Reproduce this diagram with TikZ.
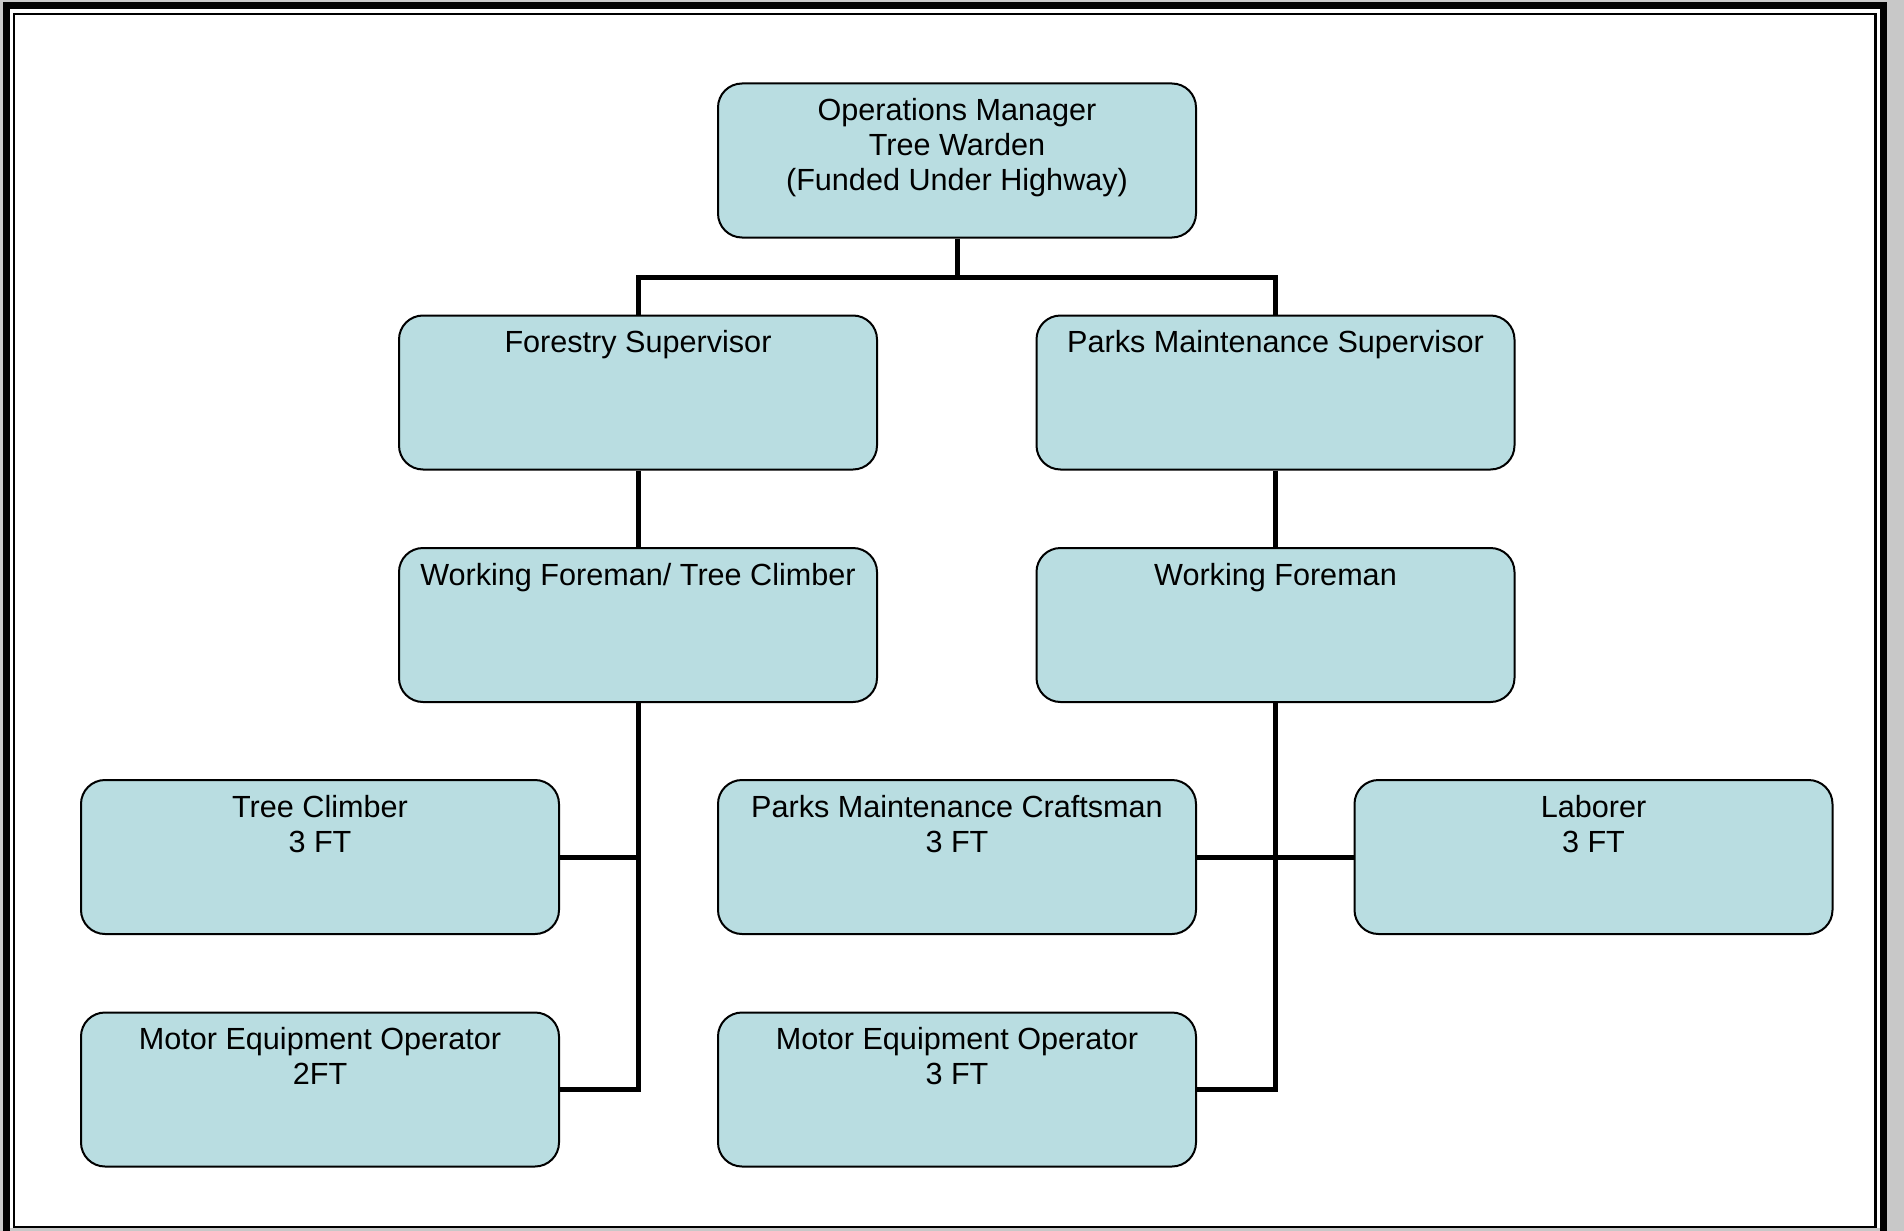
\documentclass[tikz,border=0pt]{standalone}
\usepackage{fontspec}
\setmainfont{Liberation Sans}
\pgfdeclarelayer{frame}
\pgfdeclarelayer{background}
\pgfsetlayers{frame,background,main}
\definecolor{boxcol}{RGB}{185,221,225}
\definecolor{pagegray}{RGB}{200,200,200}
\newcommand{\boxtext}[1]{\parbox[t][154pt][t]{478pt}{\centering\rule{0pt}{37pt}#1}}
\tikzset{
  orgbox/.style={draw=black, line width=2pt, fill=boxcol, rounded corners=24pt,
    inner sep=0pt, minimum width=478pt, minimum height=154pt,
    font=\fontsize{30.6}{35}\selectfont},
  conn/.style={draw=black, line width=5pt, line join=miter}
}
\begin{document}
\begin{tikzpicture}[x=1pt,y=-1pt]
\useasboundingbox (0,0) rectangle (1904,1231);
\begin{pgfonlayer}{frame}
  \fill[pagegray] (0,0) rectangle (1904,1231);
  \fill[black] (3,2) rectangle (1887,1231);
  \fill[white] (10,9) rectangle (1880,1228);
  \fill[pagegray] (10,1228) rectangle (1880,1231);
  \draw[black, line width=2.2pt] (13.8,13.8) rectangle (1875.5,1227);
\end{pgfonlayer}

\node[orgbox] (om)   at (957,160.5)  {\boxtext{Operations Manager\\Tree Warden\\(Funded Under Highway)}};
\node[orgbox] (fs)   at (638,392.5)  {\boxtext{Forestry Supervisor}};
\node[orgbox] (pms)  at (1275.5,392.5) {\boxtext{Parks Maintenance Supervisor}};
\node[orgbox] (wftc) at (638,625)    {\boxtext{Working Foreman/ Tree Climber}};
\node[orgbox] (wf)   at (1275.5,625) {\boxtext{Working Foreman}};
\node[orgbox] (tc)   at (320,857)    {\boxtext{Tree Climber\\3 FT}};
\node[orgbox] (pmc)  at (957,857)    {\boxtext{Parks Maintenance Craftsman\\3 FT}};
\node[orgbox] (lab)  at (1593.5,857) {\boxtext{Laborer\\3 FT}};
\node[orgbox] (meo2) at (320,1089.5) {\boxtext{Motor Equipment Operator\\2FT}};
\node[orgbox] (meo3) at (957,1089.5) {\boxtext{Motor Equipment Operator\\3 FT}};

\coordinate (hub) at (957,277);
\begin{pgfonlayer}{background}
  \draw[conn] (om.south) -- (hub);
  \draw[conn] (fs.north) -- (fs.north |- hub) -- (pms.north |- hub) -- (pms.north);
  \draw[conn] (fs.south) -- (wftc.north);
  \draw[conn] (pms.south) -- (wf.north);
  \draw[conn] (wftc.south) -- (wftc.south |- meo2.east) -- (meo2.east);
  \draw[conn] (tc.east) -- (tc.east -| wftc.south);
  \draw[conn] (wf.south) -- (wf.south |- meo3.east) -- (meo3.east);
  \draw[conn] (pmc.east) -- (lab.west);
\end{pgfonlayer}
\end{tikzpicture}
\end{document}
